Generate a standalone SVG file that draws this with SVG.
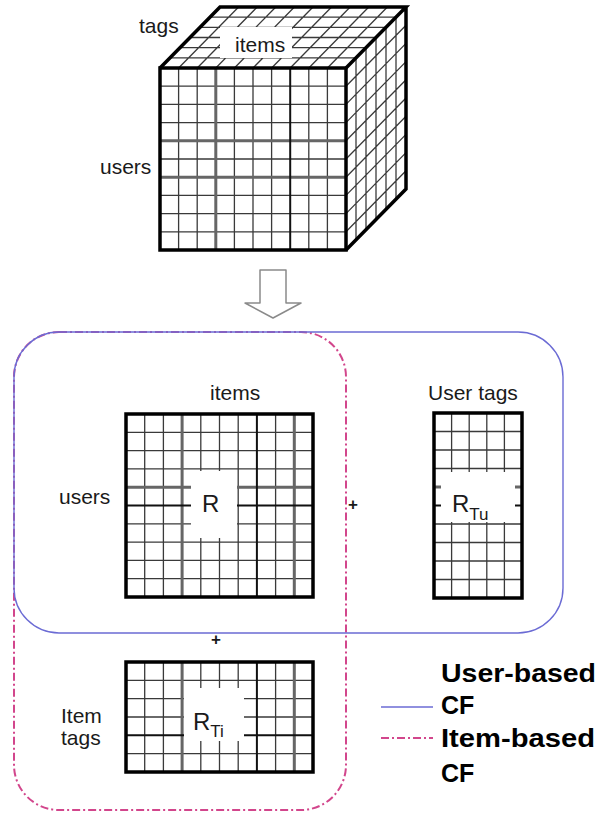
<svg xmlns="http://www.w3.org/2000/svg" width="599" height="816" viewBox="0 0 599 816">
  <style>
    .grid { fill: none; stroke: #3a3a3a; stroke-width: 1.3; }
    .thick { fill: none; stroke: #666; stroke-width: 3; }
    .dark { fill: none; stroke: #111; stroke-width: 2; }
    .border { fill: none; stroke: #000; stroke-width: 3.5; stroke-linejoin: miter; }
    .cut { fill: #fff; stroke: none; }
    .lbl { font-family: "Liberation Sans", Arial, sans-serif; font-size: 21px; fill: #1a1a1a; }
    .sym { font-family: "Liberation Sans", Arial, sans-serif; font-size: 24px; fill: #1a1a1a; }
    .sub { font-family: "Liberation Sans", Arial, sans-serif; font-size: 17px; fill: #1a1a1a; }
    .legend { font-family: "Liberation Sans", Arial, sans-serif; font-size: 25px; font-weight: bold; fill: #000; }
    .ucf { fill: none; stroke: #6b6bd4; stroke-width: 1.4; }
    .icf { fill: none; stroke: #d2468c; stroke-width: 2; stroke-dasharray: 8 3 2 3; }
  </style>
  <rect width="599" height="816" fill="#fff"/>

  <!-- tensor cube: users x items x tags -->
  <g id="cube">
    <!-- front face -->
    <path class="grid" d="M178.6 68V250M197.2 68V250M234.4 68V250M253 68V250M271.6 68V250M308.8 68V250M327.4 68V250
                          M160 86.2H346M160 104.4H346M160 122.6H346M160 159H346M160 195.4H346M160 213.6H346M160 231.8H346"/>
    <path class="thick" d="M215.8 68V250M160 140.8H346M160 177.2H346"/>
    <path class="dark" d="M290.2 68V250"/>
    <!-- top face -->
    <path class="grid" d="M178.6 68L238.6 7M197.2 68L257.2 7M215.8 68L275.8 7M234.4 68L294.4 7M253 68L313 7M271.6 68L331.6 7M290.2 68L350.2 7M308.8 68L368.8 7M327.4 68L387.4 7
                          M170 57.83H356M180 47.67H366M190 37.5H376M200 27.33H386M210 17.17H396"/>
    <rect class="cut" x="220" y="27" width="72" height="31"/>
    <!-- right face -->
    <path class="grid" d="M356 57.83V239.83M366 47.67V229.67M376 37.5V219.5M386 27.33V209.33M396 17.17V199.17
                          M346 86.2L406 25.2M346 104.4L406 43.4M346 122.6L406 61.6M346 140.8L406 79.8M346 159L406 98M346 177.2L406 116.2M346 195.4L406 134.4M346 213.6L406 152.6M346 231.8L406 170.8"/>
    <rect class="border" x="160" y="68" width="186" height="182"/>
    <path class="border" d="M160 68L220 7H406L346 68M406 7V189L346 250"/>
    <text class="lbl" x="139" y="33">tags</text>
    <text class="lbl" x="235" y="52">items</text>
    <text class="lbl" x="100" y="174">users</text>
  </g>

  <!-- decomposition arrow -->
  <g id="connectors">
    <path d="M260 270H286V303H301L273 318L245 303H260Z" fill="#fff" stroke="#8a8a8a" stroke-width="1.5" stroke-linejoin="round"/>
  </g>

  <!-- item-based CF region -->
  <g id="item-based-cf">
    <rect class="icf" x="14" y="332" width="332" height="478" rx="45" ry="45"/>
  </g>

  <!-- user-based CF region -->
  <g id="user-based-cf">
    <rect class="ucf" x="14" y="332" width="549" height="301" rx="45" ry="45"/>
  </g>

  <!-- rating matrix R -->
  <g id="matrix-r">
    <path class="grid" d="M144.7 414V597M163.4 414V597M200.8 414V597M219.5 414V597M238.2 414V597M275.6 414V597
                          M126 432.3H313M126 450.6H313M126 468.9H313M126 523.8H313M126 542.1H313M126 560.4H313M126 578.7H313"/>
    <path class="thick" d="M182.1 414V597M294.3 414V597M126 487.2H313"/>
    <path class="dark" d="M256.9 414V597M126 505.5H313"/>
    <rect class="cut" x="191" y="471" width="46" height="67"/>
    <rect class="border" x="126" y="414" width="187" height="183"/>
    <text class="sym" x="202" y="512">R</text>
    <text class="lbl" x="210" y="400">items</text>
    <text class="lbl" x="59" y="504">users</text>
  </g>

  <!-- user tag matrix R_Tu -->
  <g id="matrix-rtu">
    <path class="grid" d="M451.6 413V598M469.2 413V598M486.8 413V598M504.4 413V598
                          M434 431.5H522M434 450H522M434 468.5H522M434 524H522M434 542.5H522M434 561H522M434 579.5H522"/>
    <path class="thick" d="M434 487H522"/>
    <path class="dark" d="M434 505.5H522"/>
    <rect class="cut" x="441" y="472" width="74" height="50"/>
    <rect class="border" x="434" y="413" width="88" height="185"/>
    <text class="sym" x="452" y="512">R<tspan class="sub" dy="8">Tu</tspan></text>
    <text class="lbl" x="428" y="400">User tags</text>
  </g>

  <!-- item tag matrix R_Ti -->
  <g id="matrix-rti">
    <path class="grid" d="M144.7 662V772M163.4 662V772M200.8 662V772M219.5 662V772M238.2 662V772M275.6 662V772
                          M126 680.3H313M126 698.7H313M126 717H313M126 753.7H313"/>
    <path class="thick" d="M182.1 662V772M294.3 662V772"/>
    <path class="dark" d="M256.9 662V772M126 735.3H313"/>
    <rect class="cut" x="184" y="688" width="60" height="53"/>
    <rect class="border" x="126" y="662" width="187" height="110"/>
    <text class="sym" x="193" y="730">R<tspan class="sub" font-size="16" dy="7">Ti</tspan></text>
    <text class="lbl" x="61" y="723" font-size="19">Item</text>
    <text class="lbl" x="61" y="745" font-size="19">tags</text>
  </g>

  <!-- plus signs -->
  <g id="plus-signs">
    <text class="sub" x="353" y="510" text-anchor="middle" font-weight="bold">+</text>
    <text class="sub" x="216" y="645" text-anchor="middle" font-weight="bold">+</text>
  </g>

  <!-- legend -->
  <g id="legend">
    <line class="ucf" x1="381" y1="707" x2="433" y2="707"/>
    <line class="icf" x1="381" y1="738" x2="433" y2="738"/>
    <text class="legend" x="441" y="682" textLength="155" lengthAdjust="spacingAndGlyphs">User-based</text>
    <text class="legend" x="441" y="714">CF</text>
    <text class="legend" x="441" y="747" textLength="154" lengthAdjust="spacingAndGlyphs">Item-based</text>
    <text class="legend" x="441" y="782">CF</text>
  </g>
</svg>
